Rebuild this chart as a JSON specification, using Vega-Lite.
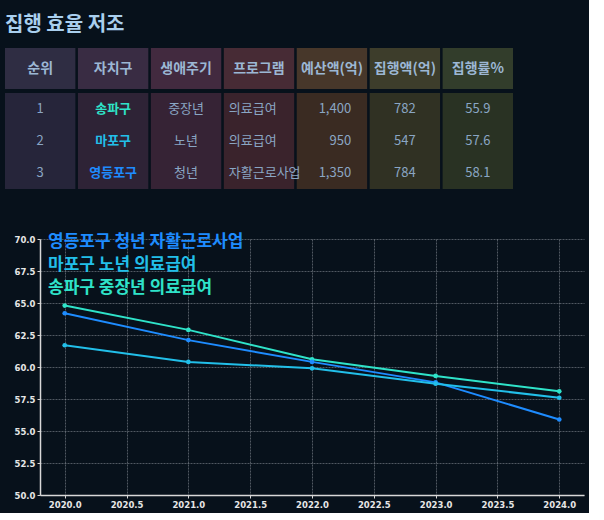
{
  "$schema": "https://vega.github.io/schema/vega-lite/v6.json",
  "background": "#07111b",
  "padding": {"left": 5, "top": 15, "right": 5, "bottom": 4},
  "title": {"text": "집행 효율 저조", "anchor": "start", "fontSize": 20, "font": "Noto Sans CJK KR", "fontWeight": "bold", "color": "#a9cfee", "offset": 13},
  "config": {"view": {"stroke": null}, "font": "Noto Sans CJK KR"},
  "datasets": {
    "table": [
      {"rank": 1, "gu": "송파구", "life": "중장년", "program": "의료급여", "budget": 1400, "spent": 782, "rate": 55.9},
      {"rank": 2, "gu": "마포구", "life": "노년", "program": "의료급여", "budget": 950, "spent": 547, "rate": 57.6},
      {"rank": 3, "gu": "영등포구", "life": "청년", "program": "자활근로사업", "budget": 1350, "spent": 784, "rate": 58.1}
    ],
    "cols": [
      {"key": "rank", "label": "순위"},
      {"key": "gu", "label": "자치구"},
      {"key": "life", "label": "생애주기"},
      {"key": "program", "label": "프로그램"},
      {"key": "budget", "label": "예산액(억)"},
      {"key": "spent", "label": "집행액(억)"},
      {"key": "rate", "label": "집행률%"}
    ],
    "trend": [
      {"series": "송파구 중장년 의료급여", "year": 2020, "value": 64.8},
      {"series": "송파구 중장년 의료급여", "year": 2021, "value": 62.9},
      {"series": "송파구 중장년 의료급여", "year": 2022, "value": 60.6},
      {"series": "송파구 중장년 의료급여", "year": 2023, "value": 59.3},
      {"series": "송파구 중장년 의료급여", "year": 2024, "value": 58.1},
      {"series": "영등포구 청년 자활근로사업", "year": 2020, "value": 64.2},
      {"series": "영등포구 청년 자활근로사업", "year": 2021, "value": 62.1},
      {"series": "영등포구 청년 자활근로사업", "year": 2022, "value": 60.4},
      {"series": "영등포구 청년 자활근로사업", "year": 2023, "value": 58.8},
      {"series": "영등포구 청년 자활근로사업", "year": 2024, "value": 55.9},
      {"series": "마포구 노년 의료급여", "year": 2020, "value": 61.7},
      {"series": "마포구 노년 의료급여", "year": 2021, "value": 60.4},
      {"series": "마포구 노년 의료급여", "year": 2022, "value": 59.9},
      {"series": "마포구 노년 의료급여", "year": 2023, "value": 58.7},
      {"series": "마포구 노년 의료급여", "year": 2024, "value": 57.6}
    ]
  },
  "spacing": 44,
  "resolve": {"scale": {"fill": "independent", "color": "independent"}},
  "vconcat": [
    {
      "spacing": 4,
      "resolve": {"scale": {"fill": "independent", "color": "independent"}},
      "vconcat": [
        {
          "width": 473,
          "height": 41,
          "data": {"name": "cols"},
          "encoding": {
            "x": {"field": "key", "type": "nominal", "axis": null, "sort": null,
                  "scale": {"domain": ["rank", "gu", "life", "program", "budget", "spent", "rate"], "range": [-35, 473], "paddingInner": 0.035, "paddingOuter": 0}}
          },
          "layer": [
            {"mark": {"type": "rect"},
             "encoding": {"fill": {"field": "key", "type": "nominal", "legend": null,
               "scale": {"domain": ["rank", "gu", "life", "program", "budget", "spent", "rate"],
                         "range": ["#2f2d43", "#392c43", "#422a3f", "#472b35", "#47372a", "#3d3d2b", "#323d2b"]}}}},
            {"mark": {"type": "text", "fontSize": 14, "fontWeight": "bold", "color": "#9cb7d4"},
             "encoding": {"text": {"field": "label", "type": "nominal"}}}
          ]
        },
        {
          "width": 473,
          "height": 96,
          "data": {"name": "table"},
          "transform": [{"fold": ["rank", "gu", "life", "program", "budget", "spent", "rate"], "as": ["key", "val"]}],
          "encoding": {
            "x": {"field": "key", "type": "nominal", "axis": null, "sort": null,
                  "scale": {"domain": ["rank", "gu", "life", "program", "budget", "spent", "rate"], "range": [-35, 473], "paddingInner": 0.035, "paddingOuter": 0}},
            "y": {"field": "rank", "type": "ordinal", "axis": null, "scale": {"paddingInner": 0, "paddingOuter": 0}}
          },
          "layer": [
            {"mark": {"type": "rect"},
             "encoding": {"fill": {"field": "key", "type": "nominal", "legend": null,
               "scale": {"domain": ["rank", "gu", "life", "program", "budget", "spent", "rate"],
                         "range": ["#26253a", "#2e2336", "#362335", "#3a232c", "#3a2b22", "#303123", "#293223"]}}}},
            {"transform": [{"filter": {"field": "key", "oneOf": ["rank", "life", "spent"]}}],
             "mark": {"type": "text", "fontSize": 13, "color": "#8aa6c4"},
             "encoding": {"text": {"field": "val", "type": "nominal"}}},
            {"transform": [{"filter": {"field": "key", "equal": "gu"}}],
             "mark": {"type": "text", "fontSize": 13, "fontWeight": "bold"},
             "encoding": {"text": {"field": "val", "type": "nominal"},
               "color": {"field": "val", "type": "nominal", "legend": null,
                 "scale": {"domain": ["송파구", "마포구", "영등포구"], "range": ["#2fe3c9", "#22bfe9", "#1e8cff"]}}}},
            {"transform": [{"filter": {"field": "key", "equal": "program"}}],
             "mark": {"type": "text", "fontSize": 13, "color": "#8aa6c4", "align": "left", "dx": 5},
             "encoding": {"x": {"field": "key", "type": "nominal", "bandPosition": 0, "axis": null},
               "text": {"field": "val", "type": "nominal"}}},
            {"transform": [{"filter": {"field": "key", "equal": "budget"}}],
             "mark": {"type": "text", "fontSize": 13, "color": "#8aa6c4", "align": "right", "dx": -16},
             "encoding": {"x": {"field": "key", "type": "nominal", "bandPosition": 1, "axis": null},
               "text": {"field": "val", "type": "quantitative", "format": ","}}},
            {"transform": [{"filter": {"field": "key", "equal": "rate"}}],
             "mark": {"type": "text", "fontSize": 13, "color": "#8aa6c4"},
             "encoding": {"text": {"field": "val", "type": "quantitative", "format": ".1f"}}}
          ]
        }
      ]
    },
    {
      "width": 544,
      "height": 256,
      "data": {"name": "trend"},
      "encoding": {
        "x": {"field": "year", "type": "quantitative", "title": null,
              "scale": {"domain": [2019.8, 2024.2], "nice": false, "zero": false},
              "axis": {"values": [2020, 2020.5, 2021, 2021.5, 2022, 2022.5, 2023, 2023.5, 2024], "format": ".1f",
                       "labelFont": "DejaVu Sans", "labelFontSize": 8.5, "labelFontWeight": "bold", "labelColor": "#e6e6e6",
                       "domainColor": "#d8d8d8", "domainWidth": 1.5, "tickColor": "#d8d8d8", "tickSize": 3,
                       "gridColor": "#9aa0a8", "gridOpacity": 0.5, "gridDash": [2, 1]}},
        "y": {"field": "value", "type": "quantitative", "title": null,
              "scale": {"domain": [50, 70], "nice": false, "zero": false},
              "axis": {"values": [50, 52.5, 55, 57.5, 60, 62.5, 65, 67.5, 70], "format": ".1f", "minExtent": 35,
                       "labelFont": "DejaVu Sans", "labelFontSize": 8.5, "labelFontWeight": "bold", "labelColor": "#e6e6e6",
                       "domainColor": "#d8d8d8", "domainWidth": 1.5, "tickColor": "#d8d8d8", "tickSize": 3,
                       "gridColor": "#9aa0a8", "gridOpacity": 0.5, "gridDash": [2, 1]}},
        "color": {"field": "series", "type": "nominal",
                  "scale": {"domain": ["영등포구 청년 자활근로사업", "마포구 노년 의료급여", "송파구 중장년 의료급여"],
                            "range": ["#1e8cff", "#22bfe9", "#2fe3c9"]},
                  "legend": {"title": null, "orient": "none", "legendX": -9, "legendY": -6,
                             "symbolSize": 0, "symbolOpacity": 0, "symbolStrokeWidth": 0, "labelOffset": 0,
                             "labelFontSize": 17, "labelFontWeight": "bold", "labelLimit": 0, "rowPadding": 5,
                             "encode": {"labels": {"update": {"fill": {"signal": "datum.value === '영등포구 청년 자활근로사업' ? '#1e8cff' : datum.value === '마포구 노년 의료급여' ? '#22bfe9' : '#2fe3c9'"}}}}}}
      },
      "layer": [
        {"mark": {"type": "line", "strokeWidth": 2}},
        {"mark": {"type": "point", "filled": true, "size": 22, "opacity": 1}}
      ]
    }
  ]
}
